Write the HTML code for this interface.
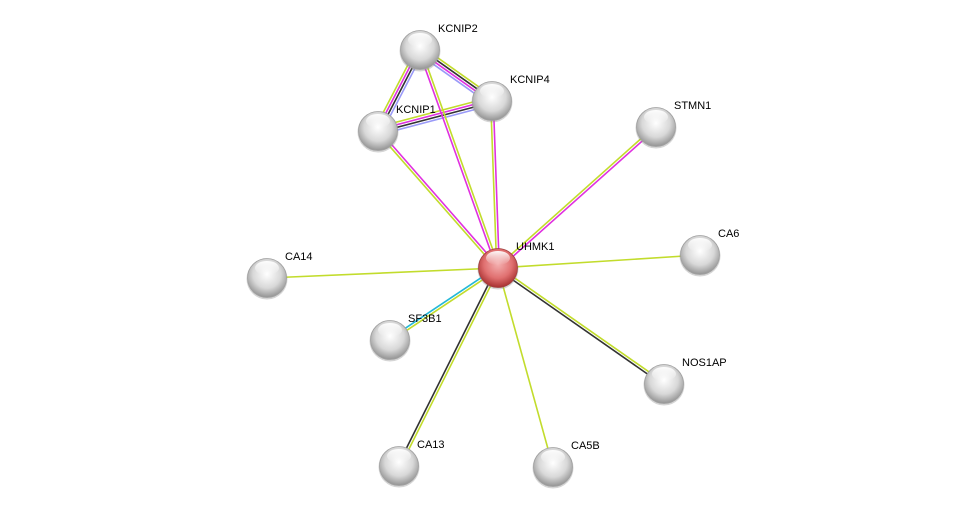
<!DOCTYPE html>
<html><head><meta charset="utf-8"><style>
body{margin:0;background:#fff;width:976px;height:512px;overflow:hidden}
svg{display:block}
text{font-family:"Liberation Sans",sans-serif;font-size:11px;fill:#000}
</style></head><body>
<svg id="s" width="976" height="512" xmlns="http://www.w3.org/2000/svg">
<defs>
<radialGradient id="g" cx="50%" cy="40%" r="60%">
<stop offset="0" stop-color="#ffffff"/><stop offset="0.6" stop-color="#d8d8d8"/><stop offset="1" stop-color="#939393"/>
</radialGradient>
<radialGradient id="r" cx="50%" cy="40%" r="60%">
<stop offset="0" stop-color="#f4b0b0"/><stop offset="0.6" stop-color="#e07070"/><stop offset="1" stop-color="#a83030"/>
</radialGradient>
<linearGradient id="hl" x1="0" y1="0" x2="0" y2="1">
<stop offset="0" stop-color="#fff" stop-opacity="0.95"/><stop offset="1" stop-color="#fff" stop-opacity="0"/>
</linearGradient>
</defs>
<g id="edges"></g><g id="nodes"></g>
</svg>
<script>
var N={KCNIP2:[420,50],KCNIP4:[492,101],KCNIP1:[378,131],STMN1:[656,127],UHMK1:[498,268],CA6:[700,255],CA14:[267,278],SF3B1:[390,340],NOS1AP:[664,384],CA13:[399,466],CA5B:[553,467]};
var Y="#c2dc2c",M="#e030e0",K="#333",B="#9a9af8",C="#22b8d8";
var E=[["KCNIP2","KCNIP1",[B,K,M,Y]],["KCNIP2","KCNIP4",[Y,K,M,B]],["KCNIP1","KCNIP4",[Y,M,K,B]],
["KCNIP2","UHMK1",[Y,M]],["KCNIP1","UHMK1",[M,Y]],["KCNIP4","UHMK1",[M,Y]],["STMN1","UHMK1",[M,Y]],
["CA6","UHMK1",[Y]],["CA14","UHMK1",[Y]],["CA5B","UHMK1",[Y]],["SF3B1","UHMK1",[C,Y]],["CA13","UHMK1",[K,Y]],["NOS1AP","UHMK1",[K,Y]]];
var ns="http://www.w3.org/2000/svg",eg=document.getElementById("edges"),ng=document.getElementById("nodes");
E.forEach(function(e){var a=N[e[0]],b=N[e[1]],dx=b[0]-a[0],dy=b[1]-a[1],L=Math.hypot(dx,dy),px=-dy/L,py=dx/L,n=e[2].length;
e[2].forEach(function(c,i){var o=(i-(n-1)/2)*2.6;var l=document.createElementNS(ns,"line");
l.setAttribute("x1",a[0]+px*o);l.setAttribute("y1",a[1]+py*o);l.setAttribute("x2",b[0]+px*o);l.setAttribute("y2",b[1]+py*o);
l.setAttribute("stroke",c);l.setAttribute("stroke-width","1.6");eg.appendChild(l);});});
for(var k in N){var p=N[k],g=document.createElementNS(ns,"g");
g.innerHTML='<circle cx="'+p[0]+'" cy="'+(p[1]+1)+'" r="20.5" fill="#888" opacity="0.35"/>'+
'<circle cx="'+p[0]+'" cy="'+p[1]+'" r="19.5" fill="url(#'+(k=="UHMK1"?"r":"g")+')" stroke="'+(k=="UHMK1"?"#a04040":"#a0a0a0")+'" stroke-width="0.8"/>'+
'<ellipse cx="'+p[0]+'" cy="'+(p[1]-10)+'" rx="12" ry="7" fill="url(#hl)"/>'+
'<text x="'+(p[0]+18)+'" y="'+(p[1]-18)+'">'+k+'</text>';
ng.appendChild(g);}
</script>
</body></html>
